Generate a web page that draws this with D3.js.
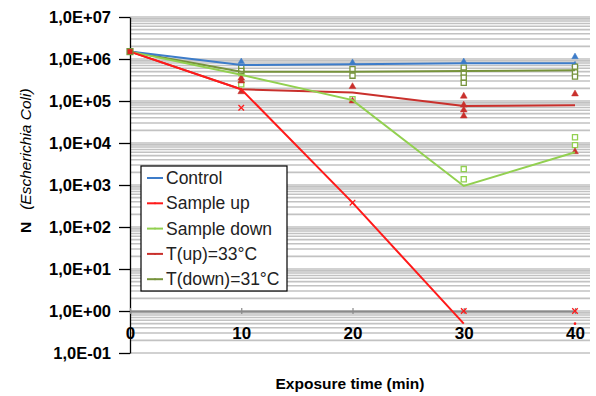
<!DOCTYPE html>
<meta charset="utf-8">
<script src="https://cdn.jsdelivr.net/npm/d3@7"></script>
<style>
  body { margin: 0; background: #fff; }
  text { font-family: "Liberation Sans", Arial, sans-serif; }
</style>
<div id="my_dataviz"></div>
<script>
// time points (min)
var times = [0, 10, 20, 30, 40];

// mean curves
var control    = [1.5e6, 7.2e5, 7.5e5, 7.9e5, 7.9e5];
var sampleUp   = [1.5e6, 1.9e5, 3.8e2, 0.5, null];
var sampleDown = [1.5e6, 4.2e5, 1.05e5, 9.5e2, 6.0e3];
var tUp        = [1.5e6, 1.9e5, 1.6e5, 7.6e4, 7.9e4];
var tDown      = [1.5e6, 5.0e5, 5.0e5, 5.2e5, 5.4e5];

// single measurements [time, N]
var controlPts    = [[10, 8.6e5], [20, 8.2e5], [30, 8.6e5], [40, 1.13e6], [40, 7.2e5]];
var sampleUpPts   = [[10, 6.9e4], [20, 3.8e2], [30, 1.0], [40, 1.0]];
var sampleDownPts = [[10, 4.6e5], [10, 2.5e5], [20, 1.1e5], [30, 2.4e3], [30, 1.37e3], [40, 1.37e4], [40, 8.9e3]];
var tUpPts        = [[10, 3.5e5], [10, 3.0e5], [10, 1.66e5], [20, 2.2e5], [20, 1.0e5],
                     [30, 1.3e5], [30, 8.0e4], [30, 6.1e4], [30, 4.4e4], [40, 1.47e5], [40, 6.2e3]];
var tDownPts      = [[10, 6.1e5], [10, 5.2e5], [20, 5.7e5], [20, 4.0e5],
                     [30, 6.2e5], [30, 4.7e5], [30, 3.6e5], [30, 2.7e5], [40, 6.6e5], [40, 4.8e5], [40, 3.8e5]];

var yTicks = [1e-1, 1e0, 1e1, 1e2, 1e3, 1e4, 1e5, 1e6, 1e7];
var seriesNames = ["Control", "Sample up", "Sample down", "T(up)=33\u00b0C", "T(down)=31\u00b0C"];

var W = 596, H = 396;
var svg = d3.select("#my_dataviz").append("svg")
    .attr("width", W).attr("height", H);

var x = d3.scaleLinear().domain([0, 40]).range([130, 575]);
var y = d3.scaleLog().domain([1e-1, 1e7]).range([353, 17]);

// minor + major gridlines
var gridVals = [];
for (var e = -1; e < 7; e++) {
  for (var k = 1; k < 10; k++) gridVals.push(k * Math.pow(10, e));
}
gridVals.push(1e7);
svg.append("g").selectAll("line").data(gridVals).join("line")
    .attr("x1", 130).attr("x2", 590)
    .attr("y1", function(d) { return y(d); })
    .attr("y2", function(d) { return y(d); })
    .attr("stroke", "#c2c2c2")
    .attr("stroke-width", 1.6);

// Y axis
function fmt(d) {
  var ex = Math.round(Math.log10(d));
  var s = (ex < 0 ? "-" : "+") + (Math.abs(ex) < 10 ? "0" : "") + Math.abs(ex);
  return "1,0E" + s;
}
var yAxis = svg.append("g")
    .attr("transform", "translate(130,0)")
    .call(d3.axisLeft(y).tickValues(yTicks).tickFormat(fmt).tickSize(11).tickSizeOuter(0).tickPadding(8));
yAxis.select(".domain").attr("stroke", "#000").attr("stroke-width", 1.3);
yAxis.selectAll(".tick line").attr("stroke", "#000").attr("stroke-width", 1.3);
yAxis.selectAll("text")
    .style("font-family", "Liberation Sans, Arial, sans-serif")
    .style("font-size", "16.5px").style("font-weight", "bold").attr("fill", "#000");

// X axis (crosses at 1)
var xAxis = svg.append("g")
    .attr("transform", "translate(0," + y(1) + ")")
    .call(d3.axisBottom(x).tickValues(times).tickSize(4).tickSizeOuter(0).tickPadding(12));
xAxis.select(".domain").attr("stroke", "#8a8a8a").attr("stroke-width", 2);
xAxis.selectAll(".tick line").attr("stroke", "#8a8a8a").attr("stroke-width", 1.2)
    .attr("y1", -3).attr("y2", 3);
xAxis.selectAll("text")
    .style("font-family", "Liberation Sans, Arial, sans-serif")
    .style("font-size", "17px").style("font-weight", "bold").attr("fill", "#000");

// axis titles
svg.append("text")
    .attr("x", 350).attr("y", 389)
    .attr("text-anchor", "middle")
    .style("font-size", "15.5px").style("font-weight", "bold")
    .text("Exposure time (min)");

var yt = svg.append("text")
    .attr("transform", "translate(31,233) rotate(-90)")
    .attr("text-anchor", "start")
    .style("font-size", "15.5px");
yt.append("tspan").style("font-weight", "bold").text("N");
yt.append("tspan").attr("dx", 12).style("font-style", "italic").text("(Escherichia Coli)");

// series definitions
var series = [
  {name: seriesNames[0], vals: control,    pts: controlPts,    color: "#3d7cc9", sym: d3.symbolTriangle, fill: true,  size: 18},
  {name: seriesNames[1], vals: sampleUp,   pts: sampleUpPts,   color: "#ff1a1a", sym: d3.symbolTimes,    fill: false, size: 22},
  {name: seriesNames[2], vals: sampleDown, pts: sampleDownPts, color: "#92d050", sym: d3.symbolSquare,   fill: false, size: 26},
  {name: seriesNames[3], vals: tUp,        pts: tUpPts,        color: "#c9302c", sym: d3.symbolTriangle, fill: true,  size: 20},
  {name: seriesNames[4], vals: tDown,      pts: tDownPts,      color: "#77933c", sym: d3.symbolSquare,   fill: false, size: 26}
];

var line = d3.line()
    .defined(function(d) { return d[1] != null; })
    .x(function(d) { return x(d[0]); })
    .y(function(d) { return y(d[1]); });

// markers first, lines on top
series.forEach(function(s) {
  svg.append("g").selectAll("path").data(s.pts).join("path")
      .attr("transform", function(d) { return "translate(" + x(d[0]) + "," + y(d[1]) + ")"; })
      .attr("d", d3.symbol().type(s.sym).size(s.size))
      .attr("fill", s.fill ? s.color : "#fff")
      .attr("stroke", s.color)
      .attr("stroke-width", s.fill ? 0.5 : 1.3);
});

[4, 0, 3, 2, 1].forEach(function(i) {
  var s = series[i];
  var pairs = times.map(function(t, j) { return [t, s.vals[j]]; });
  svg.append("path")
      .datum(pairs)
      .attr("fill", "none")
      .attr("stroke", s.color)
      .attr("stroke-width", 2)
      .attr("d", line);
});

// start point marker
svg.append("rect")
    .attr("x", x(0) - 3).attr("y", y(1.5e6) - 3)
    .attr("width", 6).attr("height", 6)
    .attr("fill", "#e02020").attr("stroke", "#77933c").attr("stroke-width", 1.2);
// sample up t=40 mean dot
svg.append("circle")
    .attr("cx", x(40)).attr("cy", y(0.5)).attr("r", 1.3).attr("fill", "#ff1a1a");

// legend
var lg = svg.append("g");
lg.append("rect")
    .attr("x", 141).attr("y", 166).attr("width", 146).attr("height", 125)
    .attr("fill", "#fff").attr("stroke", "#000").attr("stroke-width", 1.2);
series.forEach(function(s, i) {
  var ly = 178 + i * 25.3;
  lg.append("line")
      .attr("x1", 147).attr("x2", 163).attr("y1", ly).attr("y2", ly)
      .attr("stroke", s.color).attr("stroke-width", 2);
  lg.append("circle").attr("cx", 155).attr("cy", ly).attr("r", 1).attr("fill", s.color);
  lg.append("text")
      .attr("x", 166).attr("y", ly + 6)
      .style("font-size", "17.5px").attr("fill", "#222")
      .text(s.name);
});
</script>
